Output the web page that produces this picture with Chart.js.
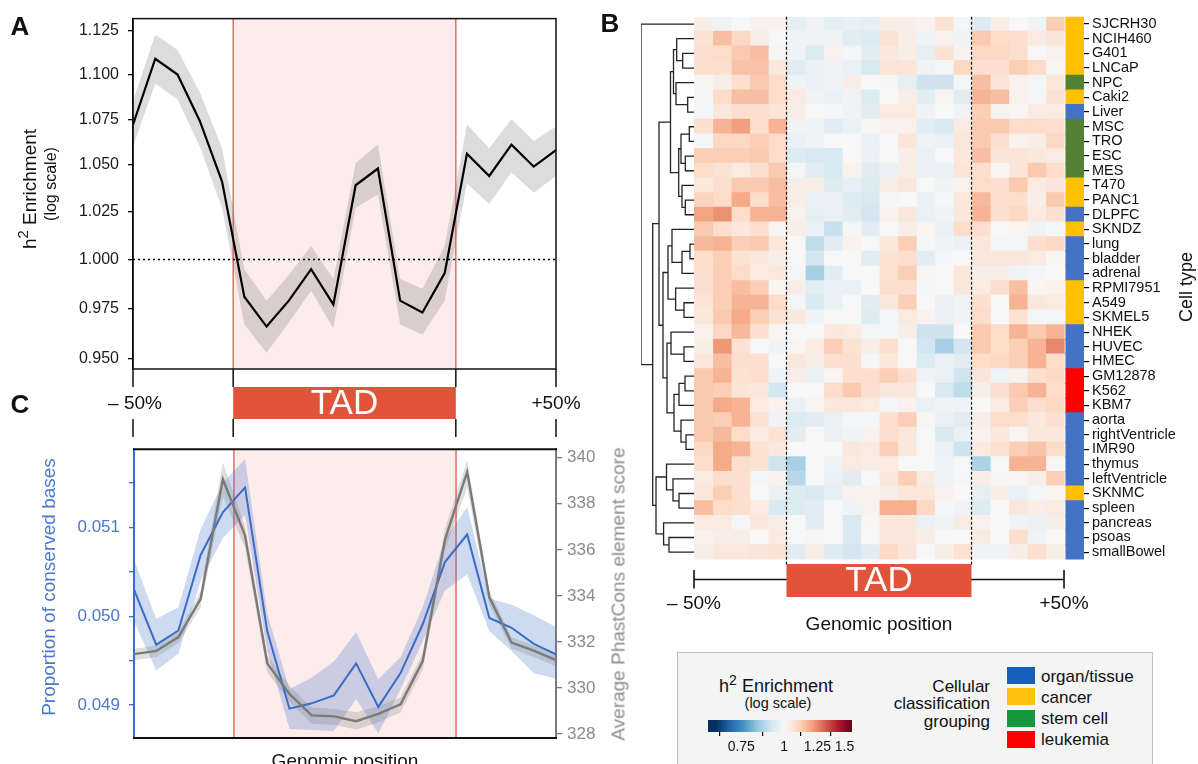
<!DOCTYPE html>
<html><head><meta charset="utf-8">
<script src="https://cdn.jsdelivr.net/npm/chart.js@4.4.1/dist/chart.umd.min.js"></script>
<style>
html,body{margin:0;padding:0;background:#fff;}
body{width:1198px;height:764px;position:relative;overflow:hidden;font-family:'Liberation Sans',Arial,Helvetica,sans-serif;color:#111;}
canvas{position:absolute;}
.t{position:absolute;white-space:nowrap;line-height:1;}
.c{transform:translate(-50%,-50%);}
.r{transform:translate(-50%,-50%) rotate(-90deg);}
.lb{font-weight:bold;font-size:26px;}
sup{font-size:0.78em;vertical-align:0.5em;line-height:0;}
#legbox{position:absolute;left:677px;top:652px;width:476px;height:130px;background:#f4f4f4;border:1.5px solid #bdbdbd;box-sizing:border-box;}
.sq{position:absolute;width:28px;height:17px;}
</style></head>
<body>
<canvas id="cA" width="600" height="437" style="left:0;top:0"></canvas>
<canvas id="cC" width="600" height="334" style="left:0;top:430px"></canvas>
<canvas id="cH" width="598" height="640" style="left:600px;top:0"></canvas>
<canvas id="cD" width="58" height="640" style="left:636px;top:0"></canvas>
<div id="legbox"></div>
<canvas id="cBar" width="175" height="48" style="left:700px;top:712px"></canvas>

<div class="t c lb" style="left:20px;top:26px">A</div>
<div class="t c lb" style="left:610px;top:23px">B</div>
<div class="t c lb" style="left:20px;top:404px">C</div>
<div class="t r" style="left:29px;top:189px;font-size:19px">h<sup>2</sup> Enrichment</div>
<div class="t r" style="left:51px;top:184px;font-size:16px">(log scale)</div>
<div class="t r" style="left:48px;top:587px;font-size:19px;color:#4a78d0">Proportion of conserved bases</div>
<div class="t r" style="left:618px;top:594px;font-size:19px;color:#8c8c8c">Average PhastCons element score</div>
<div class="t c" style="left:345px;top:760px;font-size:19px">Genomic position</div>
<div class="t r" style="left:1186px;top:287px;font-size:18px">Cell type</div>

<div class="t c" style="left:776px;top:686px;font-size:18px">h<sup>2</sup> Enrichment</div>
<div class="t c" style="left:778px;top:703px;font-size:14.5px">(log scale)</div>
<div class="t" style="left:990px;top:686px;font-size:17px;transform:translate(-100%,-50%)">Cellular</div>
<div class="t" style="left:990px;top:703px;font-size:17px;transform:translate(-100%,-50%)">classification</div>
<div class="t" style="left:990px;top:721px;font-size:17px;transform:translate(-100%,-50%)">grouping</div>
<div id="grpLegend"></div>

<script>
// ---------------- DATA ----------------
const positions = [0,1,2,3,4,5,6,7,8,9,10,11,12,13,14,15,16,17,18,19];   // genomic bins from -50% to +50%
const tadBounds = [4.5, 14.5];

const h2Mean  = [1.072,1.109,1.100,1.074,1.041,0.981,0.966,0.979,0.995,0.977,1.039,1.048,0.979,0.973,0.993,1.056,1.044,1.061,1.049,1.058];
const h2Upper = [1.085,1.123,1.114,1.090,1.059,0.995,0.979,0.992,1.007,0.990,1.051,1.061,0.990,0.985,1.007,1.072,1.059,1.075,1.063,1.071];
const h2Lower = [1.060,1.095,1.086,1.060,1.027,0.967,0.953,0.968,0.984,0.965,1.027,1.034,0.967,0.962,0.979,1.040,1.029,1.046,1.035,1.044];
const h2Ticks = [0.950,0.975,1.000,1.025,1.050,1.075,1.100,1.125];

const consMean  = [0.05030,0.04968,0.04984,0.05069,0.05117,0.05145,0.04983,0.04896,0.04902,0.04911,0.04947,0.04898,0.04936,0.04991,0.05061,0.05092,0.04998,0.04987,0.04969,0.04957];
const consUpper = [0.05064,0.04997,0.05010,0.05098,0.05150,0.05177,0.05003,0.04918,0.04931,0.04949,0.04982,0.04929,0.04954,0.05010,0.05087,0.05123,0.05020,0.05013,0.05001,0.04988];
const consLower = [0.04994,0.04939,0.04958,0.05040,0.05088,0.05114,0.04961,0.04873,0.04872,0.04871,0.04907,0.04868,0.04918,0.04972,0.05029,0.05047,0.04983,0.04961,0.04936,0.04930];
const consTicks = [0.0490,0.0495,0.0500,0.0505,0.0510,0.0515];

const phastMean  = [331.47,331.61,332.21,333.87,339.07,336.62,331.07,329.74,328.81,328.77,328.56,328.88,329.29,331.17,336.44,339.38,333.94,331.97,331.62,331.21];
const phastUpper = [331.70,331.85,332.45,334.20,339.80,337.00,331.40,330.10,329.15,329.10,328.95,329.20,329.60,331.50,336.90,339.90,334.20,332.20,331.85,331.45];
const phastLower = [331.20,331.35,331.95,333.50,338.30,336.10,330.70,329.40,328.45,328.40,328.20,328.50,328.95,330.80,336.00,338.70,333.60,331.70,331.35,330.95];
const phastTicks = [328,330,332,334,336,338,340];

const cellTypes = ['SJCRH30','NCIH460','G401','LNCaP','NPC','Caki2','Liver','MSC','TRO','ESC','MES','T470','PANC1','DLPFC','SKNDZ','lung','bladder','adrenal','RPMI7951','A549','SKMEL5','NHEK','HUVEC','HMEC','GM12878','K562','KBM7','aorta','rightVentricle','IMR90','thymus','leftVentricle','SKNMC','spleen','pancreas','psoas','smallBowel'];
const cellGroup = ['cancer','cancer','cancer','cancer','stem cell','cancer','organ/tissue','stem cell','stem cell','stem cell','stem cell','cancer','cancer','organ/tissue','cancer','organ/tissue','organ/tissue','organ/tissue','cancer','cancer','cancer','organ/tissue','organ/tissue','organ/tissue','leukemia','leukemia','leukemia','organ/tissue','organ/tissue','organ/tissue','organ/tissue','organ/tissue','cancer','organ/tissue','organ/tissue','organ/tissue','organ/tissue'];
const groupNames = ['organ/tissue','cancer','stem cell','leukemia'];
const groupBarColors = {'organ/tissue':'#4472c4','cancer':'#ffc000','stem cell':'#548235','leukemia':'#ff0000'};
const groupLegendColors = {'organ/tissue':'#1560bd','cancer':'#ffc20e','stem cell':'#16963f','leukemia':'#ff0000'};

const heatTadCols = [5, 15];
const enrichment = [
[1.03,0.98,1.00,1.02,1.02,0.96,0.98,0.96,0.97,0.96,1.03,1.03,1.02,1.07,0.99,0.94,1.03,1.00,0.98,1.12],
[1.07,1.15,1.10,1.03,1.00,0.98,0.98,0.98,0.95,0.94,1.07,1.03,0.98,1.02,0.98,1.13,1.09,1.08,1.04,1.06],
[1.08,1.09,1.13,1.15,1.01,0.98,0.94,1.02,0.99,0.95,1.05,1.03,0.96,1.07,1.02,1.10,1.10,1.08,1.00,1.02],
[1.08,1.08,1.14,1.14,1.05,0.95,0.97,0.98,0.97,0.93,1.06,1.06,0.98,0.99,1.10,1.08,1.08,1.12,1.09,1.01],
[1.01,1.03,1.08,1.13,1.09,0.98,0.97,0.98,1.03,1.00,1.01,0.96,0.91,0.91,0.99,1.15,1.06,1.02,0.99,1.05],
[0.99,1.09,1.15,1.15,1.09,1.04,0.98,0.97,0.98,0.94,1.00,1.03,0.95,1.01,0.95,1.17,1.15,1.02,0.99,1.07],
[0.99,1.05,1.08,1.08,1.06,1.03,1.00,0.99,0.98,0.95,1.04,1.04,0.98,1.00,0.98,1.12,1.02,1.01,1.04,1.04],
[1.08,1.17,1.21,1.08,1.17,0.98,0.98,0.95,0.97,1.01,1.02,1.02,0.95,0.93,1.04,1.13,1.13,1.09,1.09,1.08],
[0.99,1.10,1.10,1.12,1.09,0.97,0.98,1.00,1.00,0.97,1.00,1.06,0.98,0.97,1.05,1.13,1.08,1.02,1.03,1.10],
[1.12,1.12,1.12,1.13,1.09,0.94,0.93,0.93,1.00,0.97,1.00,1.03,0.97,1.00,1.05,1.15,1.06,1.06,1.05,1.04],
[1.09,1.07,1.04,1.08,1.13,0.99,0.95,0.93,1.02,0.95,0.97,1.03,0.97,0.97,1.06,1.08,1.01,1.06,1.13,1.09],
[1.05,1.08,1.13,1.13,1.15,1.03,1.03,0.94,0.96,0.94,1.03,1.05,1.00,0.98,1.02,1.09,1.08,1.13,1.04,1.06],
[1.11,1.09,1.19,1.08,1.15,1.03,0.97,0.97,0.94,0.93,0.99,1.00,0.97,0.99,1.05,1.16,1.08,1.08,1.03,1.13],
[1.20,1.23,1.09,1.17,1.17,1.02,0.96,0.97,0.95,0.92,1.02,1.05,0.97,0.98,1.05,1.17,1.08,1.10,1.04,1.08],
[1.13,1.08,1.05,1.08,1.01,1.03,0.97,0.90,0.99,0.95,1.00,1.03,1.01,0.97,1.09,1.08,1.00,1.01,0.98,0.99],
[1.16,1.17,1.12,1.13,1.05,1.00,0.89,0.95,1.02,1.00,1.05,1.12,0.99,0.98,0.97,1.05,0.99,0.99,1.08,1.10],
[1.09,1.12,1.07,1.05,1.03,1.00,0.92,1.00,1.00,0.95,1.07,1.08,0.95,0.99,1.00,1.05,1.05,1.05,1.04,1.01],
[1.08,1.12,1.09,1.04,1.05,0.99,0.86,0.95,1.00,1.00,1.07,1.12,1.01,1.00,1.05,1.03,1.03,0.98,0.99,1.00],
[1.08,1.12,1.15,1.12,1.01,1.03,0.95,0.97,0.97,1.00,1.08,1.08,0.99,1.00,1.05,1.04,1.08,1.15,1.01,1.02],
[1.06,1.12,1.17,1.17,1.09,0.99,0.93,0.97,1.00,0.95,1.05,1.12,1.00,0.97,0.98,1.08,1.00,1.17,1.05,1.04],
[1.05,1.13,1.19,1.12,1.07,1.05,0.98,1.00,1.00,0.94,0.99,1.04,1.02,0.97,0.98,1.09,1.00,1.07,0.99,0.99],
[1.02,1.10,1.16,1.08,1.01,1.00,1.00,1.05,1.04,0.99,0.99,1.03,0.91,0.91,1.00,1.13,1.09,1.17,1.13,1.17],
[1.03,1.22,1.07,1.00,0.98,1.01,1.04,1.12,1.07,1.03,1.08,1.00,0.92,0.86,0.92,1.13,1.09,1.12,1.17,1.25],
[1.05,1.15,1.08,1.08,1.00,1.05,1.03,1.08,1.08,0.99,1.05,1.00,0.94,0.97,0.95,1.09,1.10,1.12,1.17,1.09],
[1.13,1.17,1.07,1.08,0.98,1.03,0.97,1.01,1.08,1.08,1.12,1.08,0.98,0.97,0.91,1.06,0.98,1.02,1.08,1.10],
[1.13,1.12,1.06,1.05,0.92,1.00,1.00,1.09,1.13,1.08,1.05,1.05,1.00,0.93,0.89,1.03,1.08,1.13,1.17,1.09],
[1.13,1.19,1.17,1.04,1.02,0.97,1.01,1.05,1.05,1.04,0.99,1.02,0.97,0.98,0.98,1.00,1.04,1.12,1.08,1.10],
[1.13,1.12,1.17,1.07,0.98,0.94,0.95,0.97,0.99,0.99,1.08,1.12,1.01,0.97,0.95,1.03,1.09,1.08,1.05,1.08],
[1.13,1.16,1.09,1.04,1.07,0.95,1.00,0.97,0.98,1.02,1.08,1.05,1.00,0.93,0.97,1.02,1.05,1.01,1.05,1.05],
[1.10,1.19,1.17,1.07,1.05,1.00,1.00,1.00,1.05,1.04,1.12,1.05,1.00,0.97,0.91,1.04,1.07,1.12,1.14,1.09],
[1.08,1.19,1.08,1.07,0.91,0.86,1.00,0.98,1.04,1.03,1.04,1.00,1.00,0.98,1.00,0.865,1.00,1.17,1.17,1.01],
[1.04,1.08,1.08,0.99,1.02,0.88,1.00,0.97,0.95,1.00,1.05,1.12,1.04,0.98,0.99,1.03,1.01,1.01,1.03,1.12],
[1.05,1.12,1.08,1.00,0.97,0.94,0.93,0.96,1.02,1.02,1.03,1.05,1.05,1.02,1.00,0.96,1.03,0.97,0.99,1.01],
[1.15,1.09,1.08,1.04,0.93,0.94,0.95,1.00,0.98,1.02,1.18,1.18,1.10,0.99,0.98,0.94,1.00,1.05,1.03,1.04],
[1.04,1.04,0.99,1.05,1.03,1.00,0.95,1.00,0.93,1.01,1.05,1.05,0.97,0.98,1.04,1.02,1.00,0.98,0.97,1.03],
[1.02,1.03,1.03,1.00,1.04,1.00,0.99,1.00,0.93,1.00,1.05,1.05,1.03,1.00,1.00,1.04,1.00,1.08,0.98,1.00],
[1.03,1.05,1.05,1.06,1.07,0.95,1.03,0.94,0.92,0.95,1.10,1.06,1.00,1.03,1.07,0.98,0.98,1.03,1.08,1.03]
];

// dendrogram merges: [childA, childB, height]; leaves are row indices, merged clusters are numbered from 37 on
const dendroMerges = [
[2,3,11.3],[1,37,17.3],[5,6,6.3],[4,39,18],[38,40,20.5],[7,8,4.7],[9,10,8.7],[42,43,13],[12,13,8.7],[11,45,12],
[44,46,15.3],[41,47,23.5],[15,16,4],[49,17,12],[14,50,22],[19,20,10],[18,52,18.4],[51,53,26],[22,23,10],[21,55,23],
[24,25,9],[57,26,15],[28,29,8],[27,59,13],[58,60,20],[56,61,27],[54,62,31],[48,63,35],[32,33,15],[31,65,21],
[30,66,27.5],[35,36,25],[34,68,30.4],[67,69,38],[64,70,41.3],[0,71,53]
];

const colorMin = 0.634, colorMax = 1.577;
const colorbarTicks = [0.75, 1, 1.25, 1.5];

// ---------------- STYLE ----------------
const FONT = "'Liberation Sans', Arial, Helvetica, sans-serif";
Chart.defaults.font.family = FONT;
Chart.defaults.color = '#111';
const TAD_FILL = 'rgba(232,100,90,0.12)';
const TAD_EDGE = '#e8625a';
const TAD_BAR = '#e1533b';

const rdbu = ['#053061','#2166ac','#4393c3','#92c5de','#d1e5f0','#f7f7f7','#fddbc7','#f4a582','#d6604d','#b2182b','#67001f']
  .map(h=>[parseInt(h.slice(1,3),16),parseInt(h.slice(3,5),16),parseInt(h.slice(5,7),16)]);
function cmap(v){
  let t = (Math.log(v)-Math.log(colorMin))/(Math.log(colorMax)-Math.log(colorMin));
  t = Math.max(0, Math.min(1, t));
  const p = t*10, i = Math.min(9, Math.floor(p)), f = p - i;
  const a = rdbu[i], b = rdbu[i+1];
  return 'rgb(' + [0,1,2].map(k=>Math.round(a[k]+(b[k]-a[k])*f)).join(',') + ')';
}
const pts = (arr)=>arr.map((v,i)=>({x:positions[i], y:v}));
const noLegend = {legend:{display:false}, tooltip:{enabled:false}};
const xFirst = positions[0], xLast = positions[positions.length-1];

function tadShade(){
  return {id:'tadShade', beforeDatasetsDraw(chart){
    const {ctx, chartArea:a, scales:{x}} = chart;
    const x0 = x.getPixelForValue(tadBounds[0]), x1 = x.getPixelForValue(tadBounds[1]);
    ctx.save();
    ctx.fillStyle = TAD_FILL; ctx.fillRect(x0, a.top, x1-x0, a.bottom-a.top);
    ctx.strokeStyle = TAD_EDGE; ctx.lineWidth = 1.4; ctx.beginPath();
    [x0,x1].forEach(p=>{ctx.moveTo(p,a.top);ctx.lineTo(p,a.bottom);});
    ctx.stroke(); ctx.restore();
  }};
}

// ---------------- PANEL A ----------------
const stripA = {id:'stripA', afterDraw(chart){
  const {ctx, chartArea:a, scales:{x}} = chart;
  ctx.save();
  ctx.strokeStyle = '#111'; ctx.lineWidth = 1.5;
  ctx.strokeRect(a.left, a.top, a.right-a.left, a.bottom-a.top);
  const b = a.bottom;
  const xs = [x.getPixelForValue(xFirst), x.getPixelForValue(tadBounds[0]), x.getPixelForValue(tadBounds[1]), x.getPixelForValue(xLast)];
  ctx.beginPath();
  xs.forEach(p=>{ctx.moveTo(p,b);ctx.lineTo(p,b+18);ctx.moveTo(p,b+50);ctx.lineTo(p,b+68);});
  ctx.stroke();
  ctx.fillStyle = TAD_BAR; ctx.fillRect(xs[1], b+18, xs[2]-xs[1], 32);
  ctx.textAlign = 'center'; ctx.textBaseline = 'middle';
  ctx.fillStyle = '#fff'; ctx.font = '35px ' + FONT;
  ctx.fillText('TAD', (xs[1]+xs[2])/2, b+35);
  ctx.fillStyle = '#111'; ctx.font = '19px ' + FONT;
  ctx.fillText('\u2013 50%', xs[0]+2, b+35);
  ctx.fillText('+50%', xs[3], b+35);
  ctx.restore();
}};

new Chart(document.getElementById('cA'), {
  type:'line',
  data:{datasets:[
    {data:pts(h2Mean), borderColor:'#000', borderWidth:2.2, pointRadius:0, tension:0, fill:false},
    {data:[{x:xFirst,y:1},{x:xLast,y:1}], borderColor:'#000', borderWidth:1.5, borderDash:[2,3], pointRadius:0, fill:false},
    {data:pts(h2Upper), borderColor:'rgba(0,0,0,0)', borderWidth:0, pointRadius:0, fill:false},
    {data:pts(h2Lower), borderColor:'rgba(0,0,0,0)', borderWidth:0, pointRadius:0, fill:'-1', backgroundColor:'rgba(110,110,110,0.24)'}
  ]},
  options:{
    responsive:false, animation:false, events:[],
    layout:{padding:{left:0,right:44,top:14,bottom:68}},
    plugins:noLegend,
    scales:{
      x:{type:'linear', min:xFirst, max:xLast, display:false},
      y:{type:'logarithmic', min:0.9451, max:1.1322, position:'left',
         afterFit(s){ s.width = 133; },
         afterBuildTicks(s){ s.ticks = h2Ticks.map(v=>({value:v})); },
         ticks:{callback:(v)=>Number(v).toFixed(3), font:{size:16}, color:'#1a1a1a', padding:9, autoSkip:false, maxRotation:0},
         grid:{drawOnChartArea:false, tickLength:5, color:'#000', lineWidth:1.3},
         border:{display:true, color:'#000', width:1.5}}
    }
  },
  plugins:[tadShade(), stripA]
});

// ---------------- PANEL C ----------------
const boxC = {id:'boxC', afterDraw(chart){
  const {ctx, chartArea:a} = chart;
  ctx.save(); ctx.strokeStyle = '#111'; ctx.lineWidth = 2;
  ctx.beginPath(); ctx.moveTo(a.left-1,a.top); ctx.lineTo(a.right+1,a.top);
  ctx.moveTo(a.left-1,a.bottom); ctx.lineTo(a.right+1,a.bottom); ctx.stroke(); ctx.restore();
}};
const BLUE = '#3a6bc9', GREY = '#7a7a7a';
new Chart(document.getElementById('cC'), {
  type:'line',
  data:{datasets:[
    {data:pts(phastMean), yAxisID:'y2', borderColor:GREY, borderWidth:2.4, pointRadius:0, tension:0, fill:false},
    {data:pts(consMean), yAxisID:'y', borderColor:BLUE, borderWidth:2, pointRadius:0, tension:0, fill:false},
    {data:pts(phastUpper), yAxisID:'y2', borderColor:'rgba(0,0,0,0)', borderWidth:0, pointRadius:0, fill:false},
    {data:pts(phastLower), yAxisID:'y2', borderColor:'rgba(0,0,0,0)', borderWidth:0, pointRadius:0, fill:'-1', backgroundColor:'rgba(110,110,110,0.22)'},
    {data:pts(consUpper), yAxisID:'y', borderColor:'rgba(0,0,0,0)', borderWidth:0, pointRadius:0, fill:false},
    {data:pts(consLower), yAxisID:'y', borderColor:'rgba(0,0,0,0)', borderWidth:0, pointRadius:0, fill:'-1', backgroundColor:'rgba(70,120,200,0.27)'}
  ]},
  options:{
    responsive:false, animation:false, events:[],
    layout:{padding:{left:0,right:0,top:7,bottom:26}},
    plugins:noLegend,
    scales:{
      x:{type:'linear', min:xFirst, max:xLast, display:false},
      y:{type:'linear', position:'left', min:0.04863, max:0.05188,
         afterFit(s){ s.width = 134; },
         afterBuildTicks(s){ s.ticks = consTicks.map(v=>({value:v})); },
         ticks:{callback:(v)=>Math.abs(v*1000-Math.round(v*1000))<1e-6 ? Number(v).toFixed(3) : '', font:{size:17}, color:'#4a78d0', padding:9, autoSkip:false},
         grid:{drawOnChartArea:false, tickLength:5, color:BLUE, lineWidth:1.3},
         border:{display:true, color:BLUE, width:2}},
      y2:{type:'linear', position:'right', min:327.83, max:340.37,
         afterFit(s){ s.width = 44; },
         afterBuildTicks(s){ s.ticks = phastTicks.map(v=>({value:v})); },
         ticks:{callback:(v)=>String(v), font:{size:17}, color:'#8a8a8a', padding:5, autoSkip:false},
         grid:{drawOnChartArea:false, tickLength:6, color:GREY, lineWidth:1.3},
         border:{display:true, color:GREY, width:2}}
    }
  },
  plugins:[tadShade(), boxC]
});

// ---------------- PANEL B: HEATMAP ----------------
const nCols = enrichment[0].length;
const catBarRange = [20.11, 21.08];
const heatDatasets = [];
for (let j=0;j<nCols;j++){
  heatDatasets.push({data:cellTypes.map(()=>[j, j+1]), backgroundColor:enrichment.map(row=>cmap(row[j]))});
}
heatDatasets.push({data:cellTypes.map(()=>catBarRange.slice()), backgroundColor:cellGroup.map(g=>groupBarColors[g])});

const heatDeco = {id:'heatDeco',
  afterDatasetsDraw(chart){
    const {ctx, chartArea:a, scales:{x}} = chart;
    ctx.save(); ctx.strokeStyle = '#111'; ctx.lineWidth = 1.2; ctx.setLineDash([3,2]);
    ctx.beginPath();
    heatTadCols.forEach(c=>{const p = x.getPixelForValue(c); ctx.moveTo(p,a.top); ctx.lineTo(p,a.bottom+5);});
    ctx.stroke(); ctx.restore();
  },
  afterDraw(chart){
    const {ctx, chartArea:a, scales:{x}} = chart;
    const b = a.bottom;
    const x0 = x.getPixelForValue(0), x1 = x.getPixelForValue(nCols);
    const t0 = x.getPixelForValue(heatTadCols[0]), t1 = x.getPixelForValue(heatTadCols[1]);
    ctx.save(); ctx.strokeStyle = '#111'; ctx.lineWidth = 1.6;
    ctx.beginPath(); ctx.moveTo(x0,b+20); ctx.lineTo(x1,b+20);
    ctx.moveTo(x0,b+10.5); ctx.lineTo(x0,b+29); ctx.moveTo(x1,b+10.5); ctx.lineTo(x1,b+29); ctx.stroke();
    ctx.fillStyle = TAD_BAR; ctx.fillRect(t0, b+4.5, t1-t0, 33);
    ctx.textAlign = 'center'; ctx.textBaseline = 'middle';
    ctx.fillStyle = '#fff'; ctx.font = '35px ' + FONT; ctx.fillText('TAD', (t0+t1)/2, b+22);
    ctx.fillStyle = '#111'; ctx.font = '19px ' + FONT;
    ctx.fillText('\u2013 50%', x0, b+44); ctx.fillText('+50%', x1, b+44);
    ctx.fillText('Genomic position', (x0+x1)/2, b+65);
    ctx.restore();
  }};

new Chart(document.getElementById('cH'), {
  type:'bar',
  data:{labels:cellTypes, datasets:heatDatasets},
  options:{
    indexAxis:'y', responsive:false, animation:false, events:[],
    layout:{padding:{left:94,right:0,top:16.7,bottom:80.5}},
    datasets:{bar:{barPercentage:1, categoryPercentage:1, grouped:false, borderWidth:0, inflateAmount:0.6}},
    plugins:noLegend,
    scales:{
      x:{type:'linear', min:0, max:catBarRange[1], display:false},
      y:{type:'category', position:'right', offset:true,
         afterFit(s){ s.width = 114; },
         ticks:{font:{size:14.5}, color:'#111', padding:3, autoSkip:false},
         grid:{drawOnChartArea:false, offset:false, tickLength:5, color:'#000', lineWidth:1.2},
         border:{display:false}}
    }
  },
  plugins:[heatDeco]
});

// ---------------- DENDROGRAM ----------------
const nodeY = cellTypes.map((_,i)=>i), nodeH = cellTypes.map(()=>0);
const dendroSets = [];
dendroMerges.forEach(([p,q,h])=>{
  dendroSets.push({data:[{x:nodeH[p],y:nodeY[p]},{x:h,y:nodeY[p]},{x:h,y:nodeY[q]},{x:nodeH[q],y:nodeY[q]}],
    showLine:true, borderColor:'#222', borderWidth:1.3, pointRadius:0, tension:0, fill:false});
  nodeY.push((nodeY[p]+nodeY[q])/2); nodeH.push(h);
});
new Chart(document.getElementById('cD'), {
  type:'scatter',
  data:{datasets:dendroSets},
  options:{
    responsive:false, animation:false, events:[],
    layout:{padding:{left:5,right:0,top:16.7,bottom:80.5}},
    plugins:noLegend,
    scales:{
      x:{type:'linear', min:0, max:dendroMerges[dendroMerges.length-1][2], reverse:true, display:false},
      y:{type:'linear', min:-0.5, max:cellTypes.length-0.5, reverse:true, display:false}
    }
  }
});

// ---------------- COLOR BAR ----------------
const gradient = {id:'gradient', beforeDatasetsDraw(chart){
  const {ctx, chartArea:a, scales:{x}} = chart;
  ctx.save();
  for (let p=Math.floor(a.left); p<a.right; p++){
    ctx.fillStyle = cmap(x.getValueForPixel(p+0.5));
    ctx.fillRect(p, a.top, Math.min(1.5, a.right-p), a.bottom-a.top);
  }
  ctx.restore();
}};
new Chart(document.getElementById('cBar'), {
  type:'bar',
  data:{datasets:[]},
  options:{
    responsive:false, animation:false, events:[],
    layout:{padding:{left:8,right:23,top:8,bottom:0}},
    plugins:noLegend,
    scales:{
      x:{type:'logarithmic', min:colorMin, max:colorMax, position:'bottom',
         afterFit(s){ s.height = 28; },
         afterBuildTicks(s){ s.ticks = colorbarTicks.map(v=>({value:v})); },
         ticks:{callback:(v)=>String(v), font:{size:14}, color:'#111', padding:3, autoSkip:false, maxRotation:0},
         grid:{drawOnChartArea:false, tickLength:4, color:'#000', lineWidth:1.2},
         border:{display:false}},
      y:{type:'linear', min:0, max:1, display:false}
    }
  },
  plugins:[gradient]
});

// ---------------- GROUP LEGEND ----------------
const gl = document.getElementById('grpLegend');
groupNames.forEach((g,i)=>{
  const top = 667 + i*21.3;
  const sq = document.createElement('div'); sq.className='sq';
  sq.style.left='1007px'; sq.style.top=top+'px'; sq.style.background=groupLegendColors[g];
  gl.appendChild(sq);
  const tx = document.createElement('div'); tx.className='t';
  tx.style.left='1041px'; tx.style.top=(top+8.5)+'px'; tx.style.fontSize='17px'; tx.style.transform='translate(0,-50%)';
  tx.textContent = g; gl.appendChild(tx);
});
</script>
</body></html>
